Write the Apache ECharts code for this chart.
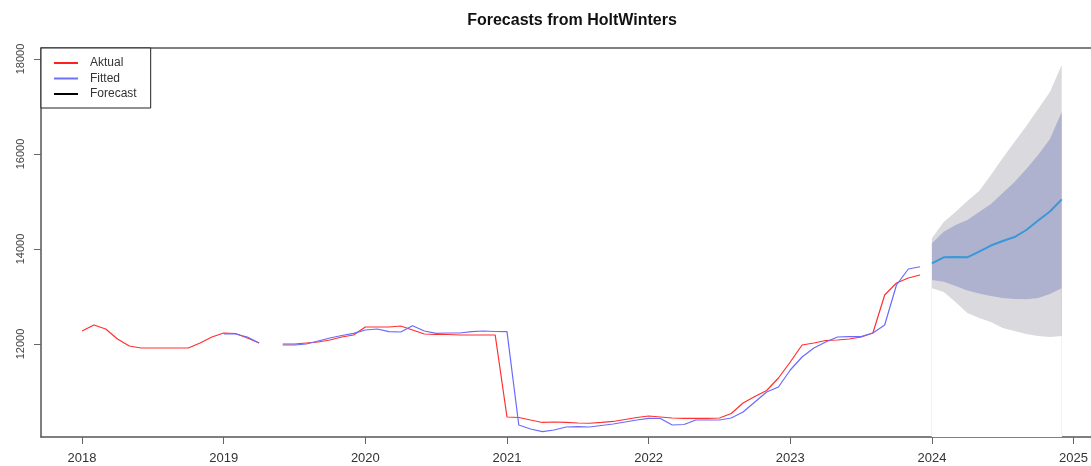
<!DOCTYPE html>
<html>
<head>
<meta charset="utf-8">
<script src="https://cdn.jsdelivr.net/npm/echarts@6/dist/echarts.min.js"></script>
<style>
  html, body { margin: 0; padding: 0; background: #fff; }
  #main { width: 1091px; height: 466px; }
</style>
</head>
<body>
<div id="main"></div>
<script>
// monthly data, Jan 2018 .. Dec 2023 (null = missing month)
var aktual = [
  12274, 12400, 12316, 12105, 11958, 11916, 11916, 11916, 11916, 11916, 12021, 12147,
  12232, 12221, 12126, 12021, null, 12000, 12000, 12021, 12042, 12084, 12147, 12189,
  12358, 12358, 12358, 12379, 12295, 12211, 12200, 12200, 12189, 12189, 12189, 12189,
  10463, 10453, 10400, 10348, 10358, 10348, 10337, 10331, 10348, 10369, 10411, 10453,
  10484, 10463, 10442, 10436, 10436, 10436, 10442, 10537, 10758, 10895, 11021, 11284,
  11621, 11979, 12021, 12074, 12084, 12105, 12147, 12232, 13031, 13284, 13389, 13452
];
// fitted starts Jan 2019
var fitted = [
  12211, 12211, 12147, 12021, null, 11979, 11979, 12000, 12063, 12126, 12179, 12225,
  12295, 12316, 12259, 12253, 12385, 12274, 12225, 12232, 12232, 12259, 12274, 12263,
  12259, 10295, 10211, 10154, 10190, 10253, 10259, 10253, 10284, 10316, 10358, 10400,
  10436, 10432, 10295, 10305, 10400, 10400, 10400, 10442, 10568, 10779, 10990, 11095,
  11453, 11726, 11916, 12042, 12147, 12154, 12154, 12232, 12400, 13242, 13579, 13627
];
// forecast Jan 2024 .. Dec 2024
var forecast = [13699, 13825, 13831, 13825, 13943, 14073, 14168, 14252, 14400, 14600, 14789, 15046];
var lo80 = [13347, 13311, 13221, 13126, 13063, 13010, 12968, 12947, 12941, 12968, 13053, 13172];
var hi80 = [14120, 14364, 14505, 14610, 14779, 14947, 15179, 15410, 15684, 15978, 16315, 16884];
var lo95 = [13172, 13095, 12884, 12652, 12547, 12463, 12337, 12274, 12211, 12168, 12147, 12168];
var hi95 = [14225, 14568, 14779, 15010, 15221, 15557, 15915, 16252, 16589, 16947, 17305, 17873];

var xTicks = [2018, 2019, 2020, 2021, 2022, 2023, 2024, 2025];
var yTicks = [12000, 14000, 16000, 18000];

function toPairs(arr, startYear) {
  return arr.map(function (v, i) {
    return [startYear + i / 12, v];
  });
}

// band layers, drawn on top of each other and filled down to the axis
function band(name, arr, color) {
  return {
    name: name,
    type: 'line',
    data: toPairs(arr, 2024),
    symbol: 'none',
    lineStyle: { width: 0, opacity: 0 },
    areaStyle: { color: color, opacity: 1, origin: 'start' },
    silent: true
  };
}

var chart = echarts.init(document.getElementById('main'));
var font = "'Liberation Sans', Arial, sans-serif";

chart.setOption({
  animation: false,
  title: {
    text: 'Forecasts from HoltWinters',
    left: 567,
    top: 8,
    textAlign: 'center',
    textStyle: { fontFamily: font, fontSize: 16, fontWeight: 'bold', color: '#111' }
  },
  legend: {
    orient: 'vertical',
    left: 41,
    top: 48,
    padding: [9, 14, 8, 13],
    itemGap: 3.5,
    itemWidth: 24,
    itemHeight: 2,
    icon: 'rect',
    borderColor: '#222',
    borderWidth: 1,
    backgroundColor: '#fff',
    textStyle: { fontFamily: font, fontSize: 12, color: '#333', padding: [0, 0, 0, 7] },
    data: [
      { name: 'Aktual', itemStyle: { color: '#ff2020' } },
      { name: 'Fitted', itemStyle: { color: '#7070ff' } },
      { name: 'Forecast', itemStyle: { color: '#000' } }
    ]
  },
  grid: {
    left: 41,
    top: 48,
    right: 0,
    bottom: 29
  },
  xAxis: [{
    type: 'value',
    min: 2017.71,
    max: 2025.12,
    splitLine: { show: false },
    axisLine: { show: true, onZero: false, lineStyle: { color: '#555', width: 1.5 } },
    axisTick: { show: true, length: 7, customValues: xTicks, lineStyle: { color: '#666' } },
    axisLabel: {
      customValues: xTicks,
      margin: 15,
      fontFamily: font,
      fontSize: 13,
      color: '#333',
      formatter: function (v) { return String(Math.round(v)); }
    }
  }, {
    // top border of the plot box
    type: 'value',
    position: 'top',
    min: 2017.71,
    max: 2025.12,
    splitLine: { show: false },
    axisLine: { show: true, onZero: false, lineStyle: { color: '#555', width: 1.5 } },
    axisTick: { show: false },
    axisLabel: { show: false }
  }],
  yAxis: {
    type: 'value',
    min: 10042,
    max: 18232,
    splitLine: { show: false },
    axisLine: { show: true, onZero: false, lineStyle: { color: '#555', width: 1.5 } },
    axisTick: { show: true, length: 7, customValues: yTicks, lineStyle: { color: '#666' } },
    axisLabel: {
      customValues: yTicks,
      rotate: 90,
      margin: 15,
      fontFamily: font,
      fontSize: 11,
      color: '#444',
      formatter: function (v) { return String(v); }
    }
  },
  series: [
    band('hi95', hi95, '#d9d9de'),
    band('hi80', hi80, '#aeb2cf'),
    band('lo80', lo80, '#d9d9de'),
    band('lo95', lo95, '#ffffff'),
    {
      name: 'Aktual',
      type: 'line',
      data: toPairs(aktual, 2018),
      symbol: 'none',
      color: '#ff2020',
      lineStyle: { color: '#ff3030', width: 1.2 }
    },
    {
      name: 'Fitted',
      type: 'line',
      data: toPairs(fitted, 2019),
      symbol: 'none',
      color: '#7070ff',
      lineStyle: { color: '#6a6aff', width: 1.2 }
    },
    {
      name: 'Forecast',
      type: 'line',
      data: toPairs(forecast, 2024),
      symbol: 'none',
      color: '#3a98d8',
      lineStyle: { color: '#3a98d8', width: 2 }
    }
  ]
});
</script>
</body>
</html>
